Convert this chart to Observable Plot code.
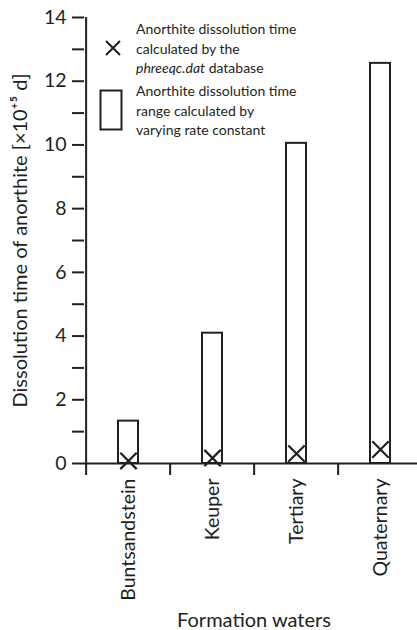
<!DOCTYPE html>
<html>
<head>
<meta charset="utf-8">
<script src="https://cdn.jsdelivr.net/npm/d3@7"></script>
<script src="https://cdn.jsdelivr.net/npm/@observablehq/plot@0.6"></script>
<style>
  html, body { margin: 0; padding: 0; background: white; }
  #wrap { position: relative; width: 417px; height: 630px; font-family: Lato, "Open Sans", sans-serif; color: #231f20; }
  .leg { position: absolute; left: 136px; font-size: 14px; line-height: 19.5px; white-space: nowrap; }
  .sym { position: absolute; }
  #chart svg [aria-label="x-axis label"] text, #chart svg [aria-label="y-axis label"] text { font-size: 20px; }
</style>
</head>
<body>
<div id="wrap">
  <div id="chart"></div>
  <svg class="sym" style="left:104px;top:39px" width="18" height="18"><path d="M2,2L16,16M16,2L2,16" stroke="#231f20" stroke-width="2"/></svg>
  <svg class="sym" style="left:99px;top:89px" width="25" height="43"><rect x="1.5" y="1.5" width="21" height="39" fill="white" stroke="#231f20" stroke-width="2"/></svg>
  <div class="leg" style="top:19px">Anorthite dissolution time<br>calculated by the<br><i>phreeqc.dat</i> database</div>
  <div class="leg" style="top:81px">Anorthite dissolution time<br>range calculated by<br>varying rate constant</div>
</div>
<script>
const formations = ["Buntsandstein", "Keuper", "Tertiary", "Quaternary"];
const rangeMax = [1.33, 4.09, 10.05, 12.56];
const phreeqcTime = [0.08, 0.17, 0.31, 0.44];
const yTicks = [0, 1, 2, 3, 4, 5, 6, 7, 8, 9, 10, 11, 12, 13, 14];
const yLabels = [0, 2, 4, 6, 8, 10, 12, 14];

const data = formations.map((f, i) => ({formation: f, max: rangeMax[i], phreeqc: phreeqcTime[i]}));

const W = 417, ML = 84, MR = -6;
const step = (W - MR - ML) / formations.length;
const ink = "#231f20";

const chart = Plot.plot({
  width: W,
  height: 630,
  marginLeft: ML,
  marginRight: MR,
  marginTop: 17,
  marginBottom: 167,
  style: {fontFamily: "Lato, 'Open Sans', sans-serif", fontSize: "19.5px", color: ink, background: "white", overflow: "visible"},
  x: {domain: formations, paddingInner: 0.764, paddingOuter: 0.382},
  y: {domain: [0, 14]},
  marks: [
    Plot.barY(data, {x: "formation", y: "max", fill: "white", stroke: ink, strokeWidth: 2}),
    Plot.dot(data, {x: "formation", y: "phreeqc", symbol: "times", r: 7.5, stroke: ink, strokeWidth: 2.2}),
    Plot.ruleY([0], {stroke: ink, strokeWidth: 2}),
    Plot.ruleX([formations[0]], {y1: 0, y2: 14, dx: -step / 2, stroke: ink, strokeWidth: 2}),
    Plot.axisY({
      ticks: yTicks,
      tickFormat: d => yLabels.includes(d) ? String(d) : "",
      tickSize: 12,
      tickPadding: 6,
      strokeWidth: 2,
      label: "Dissolution time of anorthite [×10⁺⁵ d]",
      labelAnchor: "center",
      labelArrow: "none",
      labelOffset: 72
    }),
    Plot.axisX({tickSize: 12, tickFormat: () => "", dx: -step / 2, strokeWidth: 2, label: null}),
    Plot.axisX({
      tickSize: 0,
      tickRotate: -90,
      tickPadding: 15,
      label: "Formation waters",
      labelAnchor: "center",
      labelArrow: "none",
      labelOffset: 163
    })
  ]
});
document.getElementById("chart").appendChild(chart);
</script>
</body>
</html>
